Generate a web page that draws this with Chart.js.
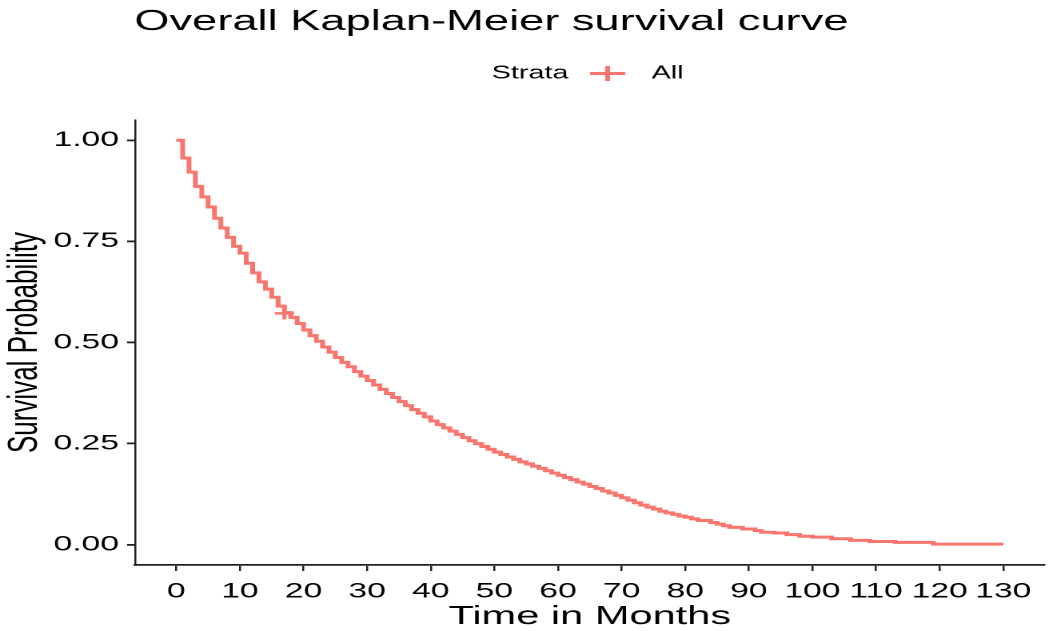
<!DOCTYPE html>
<html>
<head>
<meta charset="utf-8">
<script src="https://cdn.jsdelivr.net/npm/chart.js"></script>
<style>
body{margin:0;background:#fff;overflow:hidden}
#chart{display:block;width:656px;height:631px;transform:scaleX(1.599);transform-origin:0 0}
</style>
</head>
<body>
<canvas id="chart" width="656" height="631"></canvas>
<script>
const months=[0,1,2,3,4,5,6,7,8,9,10,11,12,13,14,15,16,17,18,19,20,21,22,23,24,25,26,27,28,29,30,31,32,33,34,35,36,37,38,39,40,41,42,43,44,45,46,47,48,49,50,51,52,53,54,55,56,57,58,59,60,61,62,63,64,65,66,67,68,69,70,71,72,73,74,75,76,77,78,79,80,81,82,84,85,86,87,89,91,92,94,96,98,100,103,106,109,113,119,130]
const survival=[1.000,0.956,0.921,0.886,0.860,0.835,0.807,0.783,0.760,0.738,0.721,0.696,0.672,0.650,0.632,0.612,0.590,0.574,0.562,0.547,0.531,0.517,0.503,0.489,0.476,0.463,0.451,0.440,0.428,0.417,0.406,0.395,0.384,0.374,0.364,0.354,0.344,0.334,0.325,0.316,0.306,0.297,0.289,0.281,0.273,0.265,0.257,0.250,0.243,0.236,0.229,0.223,0.217,0.211,0.205,0.200,0.194,0.189,0.183,0.177,0.172,0.166,0.161,0.155,0.150,0.144,0.139,0.133,0.128,0.122,0.116,0.110,0.104,0.098,0.093,0.088,0.083,0.079,0.075,0.071,0.068,0.064,0.060,0.055,0.051,0.047,0.043,0.039,0.035,0.031,0.029,0.025,0.021,0.019,0.015,0.011,0.008,0.006,0.0016,0.0016]
const censorMonths=[17]
const censorSurvival=[0.572]
const xTicks=[0,10,20,30,40,50,60,70,80,90,100,110,120,130]
const yTicks=[0,0.25,0.5,0.75,1]

const red="#F8766D"
const family="'Liberation Sans', Arial, sans-serif"
const panelRight=653.3

// title and the ggplot style legend (Strata  -+-  All)
const headers={
id:"headers",
afterLayout(chart){
// keep the x panel running to the right edge like ggplot does
const x=chart.scales.x
x.right=panelRight
x.width=x.right-x.left
chart.chartArea.right=panelRight
chart.chartArea.width=x.width
x.configure()
},
afterDraw(chart){
const ctx=chart.ctx
ctx.save()
ctx.fillStyle="#000"
ctx.textBaseline="alphabetic"
ctx.font=`28.3px ${family}`
ctx.fillText("Overall Kaplan-Meier survival curve",84,30)
ctx.font=`18px ${family}`
ctx.textBaseline="middle"
ctx.fillText("Strata",307.5,73.5)
ctx.fillText("All",407.5,73.5)
ctx.strokeStyle=red
ctx.lineWidth=3
ctx.beginPath()
ctx.moveTo(369,73.5)
ctx.lineTo(391,73.5)
ctx.moveTo(380,66)
ctx.lineTo(380,81)
ctx.stroke()
ctx.restore()
}
}

new Chart(document.getElementById("chart"),{
type:"line",
data:{
datasets:[{
data:months.map((m,i)=>({x:m,y:survival[i]})),
borderColor:red,
borderWidth:3,
stepped:"before",
pointRadius:0,
fill:false
},{
data:censorMonths.map((m,i)=>({x:m,y:censorSurvival[i]})),
showLine:false,
pointStyle:"cross",
pointRadius:6,
pointBorderColor:red,
pointBorderWidth:2.5
}]
},
options:{
responsive:false,
animation:false,
devicePixelRatio:2,
layout:{padding:{top:120,right:2.7,left:0,bottom:0}},
plugins:{legend:{display:false},tooltip:{enabled:false},title:{display:false}},
scales:{
x:{
type:"linear",
min:-6.5,
max:136.5,
afterBuildTicks:s=>{s.ticks=xTicks.map(v=>({value:v}))},
afterFit:s=>{s.height=66},
ticks:{autoSkip:false,maxRotation:0,color:"#000",font:{family,size:21},padding:8},
grid:{drawOnChartArea:false,tickLength:6,color:"#222",lineWidth:1.25},
border:{color:"#222",width:1.8},
title:{display:true,text:"Time in Months",color:"#000",font:{family,size:26,lineHeight:1.1},padding:{top:0,bottom:0}}
},
y:{
min:-0.05,
max:1.05,
afterBuildTicks:s=>{s.ticks=yTicks.map(v=>({value:v}))},
afterFit:s=>{s.width=84.4},
ticks:{color:"#000",font:{family,size:21},padding:5,callback:v=>v.toFixed(2)},
grid:{drawOnChartArea:false,tickLength:5,color:"#222",lineWidth:1.8},
border:{color:"#222",width:1.25},
title:{display:true,text:"Survival Probability",color:"#000",font:{family,size:26},padding:{top:0,bottom:0}}
}
}
},
plugins:[headers]
})
</script>
</body>
</html>
